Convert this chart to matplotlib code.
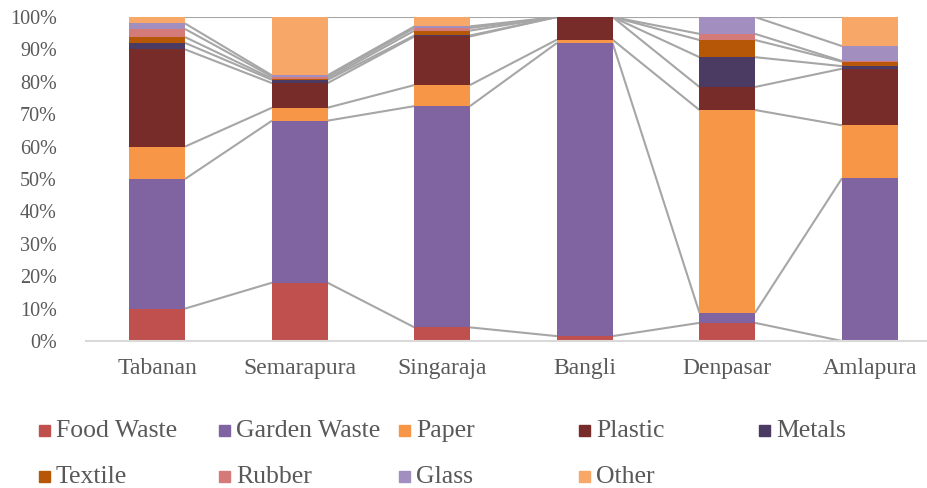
import numpy as np
import matplotlib.pyplot as plt
from matplotlib.patches import Rectangle

plt.rcParams['font.family'] = ['Liberation Serif', 'DejaVu Serif']

# data (% of total waste)
cities = ['Tabanan', 'Semarapura', 'Singaraja', 'Bangli', 'Denpasar', 'Amlapura']
series = ['Food Waste', 'Garden Waste', 'Paper', 'Plastic', 'Metals',
          'Textile', 'Rubber', 'Glass', 'Other']

food_waste = [10, 18, 4.2, 1.5, 5.6, 0]
garden_waste = [40, 50, 68.3, 90.5, 3.1, 50.3]
paper = [10, 4, 6.5, 1, 62.6, 16.4]
plastic = [30, 7.6, 15, 7, 7.1, 17.5]
metals = [2, 1, 0.3, 0, 9.2, 0.8]
textile = [1.8, 0.4, 1.5, 0, 5.3, 1.4]
rubber = [2.5, 0.6, 0.8, 0, 1.9, 0.2]
glass = [1.7, 0.4, 0.5, 0, 5.2, 4.6]
other = [2, 18, 2.9, 0, 0, 9]

colors = ['#C0504D', '#8064A2', '#F79646', '#772C2A', '#4B3A62',
          '#B65708', '#D47B79', '#A28FC0', '#F7A869']

values = np.array([food_waste, garden_waste, paper, plastic, metals,
                   textile, rubber, glass, other], dtype=float)
# normalise each column to 100 %
values = values / values.sum(axis=0) * 100

fig = plt.figure(figsize=(9.28, 4.88), dpi=100)
ax = fig.add_axes([86 / 928, 147 / 488, 855 / 928, 324 / 488])

x = np.arange(len(cities))
width = 0.39
bottom = np.zeros(len(cities))
for vals, name, c in zip(values, series, colors):
    ax.bar(x, vals, width, bottom=bottom, color=c, label=name, zorder=2)
    bottom += vals
    # series lines between neighbouring bars
    for i in range(len(cities) - 1):
        ax.plot([x[i] + width / 2, x[i + 1] - width / 2],
                [bottom[i], bottom[i + 1]], color='#A6A6A6', lw=1.5,
                zorder=1, solid_capstyle='butt')

ax.set_xlim(-0.5, len(cities) - 0.5)
ax.set_ylim(0, 100)
ax.set_yticks(np.arange(0, 101, 10))
ax.set_yticklabels([f'{v}%' for v in range(0, 101, 10)])
ax.set_xticks(x)
ax.set_xticklabels(cities)
ax.tick_params(length=0, labelcolor='#595959')
ax.tick_params(axis='x', pad=12, labelsize=17)
ax.tick_params(axis='y', pad=21, labelsize=14.5)
for side in ['top', 'right', 'left']:
    ax.spines[side].set_visible(False)
ax.spines['bottom'].set_color('#D9D9D9')
ax.spines['bottom'].set_linewidth(1.5)

# legend, two rows of evenly spaced entries
for i, (name, c) in enumerate(zip(series, colors)):
    row, col = divmod(i, 5)
    lx = 39 + col * 180
    ly = 431 + row * 46
    fig.patches.append(Rectangle((lx / 928, 1 - (ly + 5) / 488), 11 / 928, 11 / 488,
                                 transform=fig.transFigure, color=c))
    fig.text((lx + 17) / 928, 1 - ly / 488, name, fontsize=18.5,
             color='#595959', va='center', ha='left')

fig.savefig('out.png', dpi=100)
